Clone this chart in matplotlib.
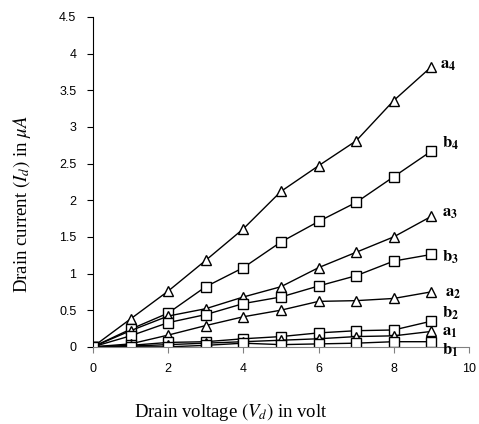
import numpy as np
from matplotlib import pyplot as plt

plt.rcParams['mathtext.fontset'] = 'stix'

vd = [0, 1, 2, 3, 4, 5, 6, 7, 8, 9]

a4 = [0, 0.38, 0.76, 1.18, 1.61, 2.12, 2.47, 2.81, 3.36, 3.82]
b4 = [0, 0.24, 0.46, 0.82, 1.08, 1.43, 1.71, 1.97, 2.32, 2.67]
a3 = [0, 0.22, 0.42, 0.52, 0.68, 0.82, 1.08, 1.29, 1.50, 1.78]
b3 = [0, 0.15, 0.33, 0.44, 0.59, 0.68, 0.83, 0.97, 1.17, 1.26]
a2 = [0, 0.04, 0.16, 0.29, 0.41, 0.50, 0.62, 0.63, 0.66, 0.75]
b2 = [0, 0.02, 0.06, 0.07, 0.11, 0.14, 0.19, 0.22, 0.23, 0.35]
a1 = [0, 0.01, 0.03, 0.05, 0.07, 0.09, 0.11, 0.14, 0.15, 0.21]
b1 = [0, 0.0, 0.0, 0.02, 0.05, 0.03, 0.04, 0.05, 0.07, 0.07]

series = [
    (a4, '^', r'$\mathbf{a}_\mathbf{4}$'),
    (b4, 's', r'$\mathbf{b}_\mathbf{4}$'),
    (a3, '^', r'$\mathbf{a}_\mathbf{3}$'),
    (b3, 's', r'$\mathbf{b}_\mathbf{3}$'),
    (a2, '^', r'$\mathbf{a}_\mathbf{2}$'),
    (b2, 's', r'$\mathbf{b}_\mathbf{2}$'),
    (a1, '^', r'$\mathbf{a}_\mathbf{1}$'),
    (b1, 's', r'$\mathbf{b}_\mathbf{1}$'),
]
label_offsets = [(2, 2), (4, 6), (4, 3), (4, -2), (6, 0), (4, 6), (4, 0), (4, -6)]

fig = plt.figure(figsize=(4.79, 4.24), dpi=100)
ax = fig.add_axes([0.194, 0.182, 0.785, 0.778])

for (ys, m, lab), (dx, dy) in zip(series, label_offsets):
    ms = 7.5 if m == '^' else 6.5
    ax.plot(vd, ys, '-', color='black', lw=1, marker=m, ms=ms,
            mfc='white', mec='black', mew=1)
    ax.annotate(lab, (vd[-1], ys[-1]), xytext=(dx + 4, dy),
                textcoords='offset points', fontsize=12, va='center')

ax.set_xlim(0, 10)
ax.set_ylim(0, 4.5)
ax.set_xticks(np.arange(0, 11, 2))
ax.set_yticks(np.arange(0, 4.51, 0.5))
ax.set_yticklabels(['0', '0.5', '1', '1.5', '2', '2.5', '3', '3.5', '4', '4.5'])
for s in ['top', 'right']:
    ax.spines[s].set_visible(False)
ax.spines['bottom'].set_color('gray')
ax.tick_params(direction='out', length=4, labelsize=9, pad=8)
ax.tick_params(axis='x', color='gray')
for t in ax.get_xticklabels() + ax.get_yticklabels():
    t.set_family('Liberation Sans')

fig.text(231 / 479, 1 - 412 / 424, r'Drain voltage $\it{(V_d)}$ in volt',
         family='Liberation Serif', fontsize=13.5, ha='center', va='center')
fig.text(22 / 479, 1 - 204 / 424, r'Drain current $\it{(I_d)}$ in $\mu A$',
         family='Liberation Serif', fontsize=13.5, ha='center', va='center',
         rotation=90)

fig.savefig('out.png', dpi=100)
